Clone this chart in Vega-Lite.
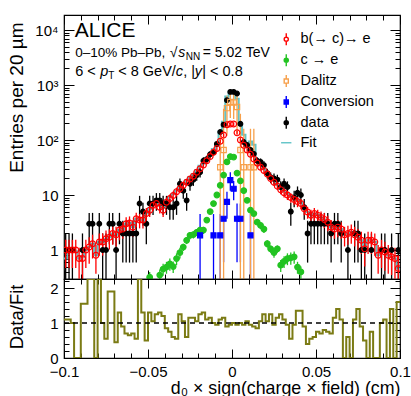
{
"$schema": "https://vega.github.io/schema/vega-lite/v6.json",
"padding": {"left": 6, "top": 13, "right": 13, "bottom": 0},
"spacing": 0,
"bounds": "flush",
"config": {
  "font": "Liberation Sans",
  "view": {"stroke": "#000", "strokeWidth": 1.2},
  "axis": {"domain": false, "grid": false, "tickColor": "#000", "tickWidth": 1, "labelColor": "#000", "titleColor": "#000", "labelFont": "Liberation Sans", "titleFont": "Liberation Sans", "labelFontSize": 15, "titleFontSize": 17.8, "titleFontWeight": "normal", "labelOverlap": false, "labelFlush": false, "labelBound": false},
  "text": {"font": "Liberation Sans", "color": "#000"}
},
"datasets": {
"legend": [{"s":"b(→ c)→ e"},{"s":"c → e"},{"s":"Dalitz"},{"s":"Conversion"},{"s":"data"},{"s":"Fit"}],
"fit": [
{"x":-0.1,"v":0.7},{"x":-0.098,"v":1.0},{"x":-0.096,"v":1.0},{"x":-0.094,"v":0.95},{"x":-0.092,"v":0.7},{"x":-0.09,"v":0.75},{"x":-0.088,"v":1.0},{"x":-0.086,"v":1.13},{"x":-0.084,"v":1.3},{"x":-0.082,"v":0.8},
{"x":-0.08,"v":1.4},{"x":-0.078,"v":1.4},{"x":-0.076,"v":1.6},{"x":-0.074,"v":1.7},{"x":-0.072,"v":2.0},{"x":-0.07,"v":1.9},{"x":-0.068,"v":2.3},{"x":-0.066,"v":2.4},{"x":-0.064,"v":3.0},{"x":-0.062,"v":3.1},
{"x":-0.06,"v":2.6},{"x":-0.058,"v":3.7},{"x":-0.056,"v":3.5},{"x":-0.054,"v":3.5},{"x":-0.052,"v":4.6},{"x":-0.05,"v":5.6},{"x":-0.048,"v":6.5},{"x":-0.046,"v":7.0},{"x":-0.044,"v":6.4},{"x":-0.042,"v":5.8},
{"x":-0.04,"v":7.9},{"x":-0.038,"v":9.2},{"x":-0.036,"v":10.3},{"x":-0.034,"v":12.2},{"x":-0.032,"v":13.9},{"x":-0.03,"v":16.1},{"x":-0.028,"v":18.5},{"x":-0.026,"v":21.3},{"x":-0.024,"v":23.9},{"x":-0.022,"v":28.1},
{"x":-0.02,"v":34.2},{"x":-0.018,"v":37.3},{"x":-0.016,"v":45.5},{"x":-0.014,"v":55},{"x":-0.012,"v":68.9},{"x":-0.01,"v":80},{"x":-0.008,"v":144},{"x":-0.006,"v":215},{"x":-0.004,"v":618},{"x":-0.002,"v":754},
{"x":0,"v":737},{"x":0.002,"v":564},{"x":0.004,"v":188},{"x":0.006,"v":124},{"x":0.008,"v":74},{"x":0.01,"v":94},{"x":0.012,"v":82},{"x":0.014,"v":41.2},{"x":0.016,"v":34.8},{"x":0.018,"v":30.4},
{"x":0.02,"v":25.3},{"x":0.022,"v":21},{"x":0.024,"v":17.9},{"x":0.026,"v":15.5},{"x":0.028,"v":13},{"x":0.03,"v":11.6},{"x":0.032,"v":10.7},{"x":0.034,"v":9.7},{"x":0.036,"v":9.0},{"x":0.038,"v":8.1},
{"x":0.04,"v":7.4},{"x":0.042,"v":5.6},{"x":0.044,"v":4.9},{"x":0.046,"v":4.3},{"x":0.048,"v":4.6},{"x":0.05,"v":4.3},{"x":0.052,"v":3.9},{"x":0.054,"v":3.6},{"x":0.056,"v":3.2},{"x":0.058,"v":2.6},
{"x":0.06,"v":2.4},{"x":0.062,"v":2.6},{"x":0.064,"v":2.4},{"x":0.066,"v":1.9},{"x":0.068,"v":2.0},{"x":0.07,"v":2.1},{"x":0.072,"v":1.9},{"x":0.074,"v":1.7},{"x":0.076,"v":1.5},{"x":0.078,"v":1.05},
{"x":0.08,"v":1.5},{"x":0.082,"v":1.5},{"x":0.084,"v":1.4},{"x":0.086,"v":0.8},{"x":0.088,"v":1.0},{"x":0.09,"v":0.92},{"x":0.092,"v":0.8},{"x":0.094,"v":0.75},{"x":0.096,"v":0.7},{"x":0.098,"v":0.46},{"x":0.1,"v":0.46}
],
"ratio": [
{"x":-0.1,"r":1.1},{"x":-0.098,"r":1.1},{"x":-0.096,"r":1.0},{"x":-0.094,"r":0},{"x":-0.092,"r":0},{"x":-0.09,"r":1.55},{"x":-0.088,"r":1.55},{"x":-0.086,"r":2.26},{"x":-0.084,"r":2.26},{"x":-0.082,"r":0},
{"x":-0.08,"r":2.26},{"x":-0.078,"r":1.0},{"x":-0.076,"r":0.55},{"x":-0.074,"r":1.9},{"x":-0.072,"r":1.9},{"x":-0.07,"r":0.45},{"x":-0.068,"r":1.3},{"x":-0.066,"r":0.9},{"x":-0.064,"r":0.7},{"x":-0.062,"r":0.65},
{"x":-0.06,"r":0.7},{"x":-0.058,"r":0.55},{"x":-0.056,"r":2.26},{"x":-0.054,"r":1.3},{"x":-0.052,"r":0.5},{"x":-0.05,"r":1.3},{"x":-0.048,"r":1.05},{"x":-0.046,"r":1.25},{"x":-0.044,"r":1.3},{"x":-0.042,"r":1.2},
{"x":-0.04,"r":0.85},{"x":-0.038,"r":0.75},{"x":-0.036,"r":0.6},{"x":-0.034,"r":0.55},{"x":-0.032,"r":1.25},{"x":-0.03,"r":1.05},{"x":-0.028,"r":0.6},{"x":-0.026,"r":1.15},{"x":-0.024,"r":1.15},{"x":-0.022,"r":1.05},
{"x":-0.02,"r":1.25},{"x":-0.018,"r":1.3},{"x":-0.016,"r":1.1},{"x":-0.014,"r":1.15},{"x":-0.012,"r":1.0},{"x":-0.01,"r":0.95},{"x":-0.008,"r":1.1},{"x":-0.006,"r":1.15},{"x":-0.004,"r":0.9},{"x":-0.002,"r":0.95},
{"x":0,"r":1.0},{"x":0.002,"r":0.95},{"x":0.004,"r":1.0},{"x":0.006,"r":0.95},{"x":0.008,"r":1.05},{"x":0.01,"r":0.95},{"x":0.012,"r":0.9},{"x":0.014,"r":0.85},{"x":0.016,"r":1.05},{"x":0.018,"r":1.25},
{"x":0.02,"r":1.05},{"x":0.022,"r":1.25},{"x":0.024,"r":0.95},{"x":0.026,"r":1.15},{"x":0.028,"r":1.25},{"x":0.03,"r":1.1},{"x":0.032,"r":0.95},{"x":0.034,"r":0.55},{"x":0.036,"r":0.95},{"x":0.038,"r":1.35},
{"x":0.04,"r":1.35},{"x":0.042,"r":0.9},{"x":0.044,"r":0.4},{"x":0.046,"r":0.55},{"x":0.048,"r":0.6},{"x":0.05,"r":0.75},{"x":0.052,"r":0.7},{"x":0.054,"r":0.8},{"x":0.056,"r":0.75},{"x":0.058,"r":0.7},
{"x":0.06,"r":1.15},{"x":0.062,"r":1.4},{"x":0.064,"r":1.1},{"x":0.066,"r":0},{"x":0.068,"r":0.6},{"x":0.07,"r":0},{"x":0.072,"r":1.1},{"x":0.074,"r":1.4},{"x":0.076,"r":0.9},{"x":0.078,"r":0.5},
{"x":0.08,"r":0},{"x":0.082,"r":0.75},{"x":0.084,"r":0},{"x":0.086,"r":0},{"x":0.088,"r":1.0},{"x":0.09,"r":1.1},{"x":0.092,"r":0},{"x":0.094,"r":1.4},{"x":0.096,"r":0},{"x":0.098,"r":1.6},{"x":0.1,"r":1.6}
],
"pts": [
{"s":"data","x":-0.099,"v":1,"lo":0.05,"hi":2},{"s":"data","x":-0.097,"v":1,"lo":0.05,"hi":2},{"s":"data","x":-0.095,"v":1,"lo":0.05,"hi":2},{"s":"data","x":-0.089,"v":1,"lo":0.05,"hi":2},
{"s":"data","x":-0.085,"v":3,"lo":1.27,"hi":4.73},{"s":"data","x":-0.083,"v":3,"lo":1.27,"hi":4.73},{"s":"data","x":-0.079,"v":3,"lo":1.27,"hi":4.73},{"s":"data","x":-0.077,"v":1,"lo":0.05,"hi":2},
{"s":"data","x":-0.075,"v":1,"lo":0.05,"hi":2},{"s":"data","x":-0.073,"v":3,"lo":1.27,"hi":4.73},{"s":"data","x":-0.071,"v":3,"lo":1.27,"hi":4.73},{"s":"data","x":-0.069,"v":1,"lo":0.05,"hi":2},
{"s":"data","x":-0.067,"v":3,"lo":1.27,"hi":4.73},{"s":"data","x":-0.065,"v":2,"lo":0.59,"hi":3.41},{"s":"data","x":-0.063,"v":2,"lo":0.59,"hi":3.41},{"s":"data","x":-0.061,"v":2,"lo":0.59,"hi":3.41},
{"s":"data","x":-0.059,"v":2,"lo":0.59,"hi":3.41},{"s":"data","x":-0.057,"v":2,"lo":0.59,"hi":3.41},{"s":"data","x":-0.055,"v":7,"lo":4.35,"hi":9.65},{"s":"data","x":-0.053,"v":5,"lo":2.76,"hi":7.24},
{"s":"data","x":-0.051,"v":3,"lo":1.27,"hi":4.73},{"s":"data","x":-0.049,"v":7,"lo":4.35,"hi":9.65},{"s":"data","x":-0.047,"v":7,"lo":4.35,"hi":9.65},{"s":"data","x":-0.045,"v":8,"lo":5.17,"hi":10.83},
{"s":"data","x":-0.043,"v":8,"lo":5.17,"hi":10.83},{"s":"data","x":-0.041,"v":7,"lo":4.35,"hi":9.65},{"s":"data","x":-0.039,"v":7,"lo":4.35,"hi":9.65},{"s":"data","x":-0.037,"v":6,"lo":3.55,"hi":8.45},
{"s":"data","x":-0.035,"v":6,"lo":3.55,"hi":8.45},{"s":"data","x":-0.033,"v":7,"lo":4.35,"hi":9.65},{"s":"data","x":-0.031,"v":16,"lo":12,"hi":20},{"s":"data","x":-0.029,"v":12,"lo":8.54,"hi":15.46},
{"s":"data","x":-0.027,"v":8,"lo":5.17,"hi":10.83},{"s":"data","x":-0.025,"v":16,"lo":12,"hi":20},{"s":"data","x":-0.023,"v":19,"lo":14.64,"hi":23.36},{"s":"data","x":-0.021,"v":23,"lo":18.2,"hi":27.8},
{"s":"data","x":-0.019,"v":26,"lo":20.9,"hi":31.1},{"s":"data","x":-0.017,"v":42,"lo":35.5,"hi":48.5},{"s":"data","x":-0.015,"v":45,"lo":38.3,"hi":51.7},{"s":"data","x":-0.013,"v":55,"lo":47.6,"hi":62.4},
{"s":"data","x":-0.011,"v":60,"lo":52.3,"hi":67.7},{"s":"data","x":-0.009,"v":85,"lo":75.8,"hi":94.2},{"s":"data","x":-0.007,"v":140,"lo":128.2,"hi":151.8},{"s":"data","x":-0.005,"v":190,"lo":176.2,"hi":203.8},
{"s":"data","x":-0.003,"v":530,"lo":507,"hi":553},{"s":"data","x":-0.001,"v":750,"lo":722.6,"hi":777.4},{"s":"data","x":0.001,"v":750,"lo":722.6,"hi":777.4},{"s":"data","x":0.003,"v":700,"lo":673.5,"hi":726.5},
{"s":"data","x":0.005,"v":197,"lo":183,"hi":211},{"s":"data","x":0.007,"v":92,"lo":82.4,"hi":101.6},{"s":"data","x":0.009,"v":81,"lo":72,"hi":90},{"s":"data","x":0.011,"v":66,"lo":57.9,"hi":74.1},
{"s":"data","x":0.013,"v":56,"lo":48.5,"hi":63.5},{"s":"data","x":0.015,"v":42,"lo":35.5,"hi":48.5},{"s":"data","x":0.017,"v":40,"lo":33.7,"hi":46.3},{"s":"data","x":0.019,"v":35,"lo":29.1,"hi":40.9},
{"s":"data","x":0.021,"v":25,"lo":20,"hi":30},{"s":"data","x":0.023,"v":21,"lo":16.4,"hi":25.6},{"s":"data","x":0.025,"v":20,"lo":15.5,"hi":24.5},{"s":"data","x":0.027,"v":19,"lo":14.64,"hi":23.36},
{"s":"data","x":0.029,"v":14,"lo":10.3,"hi":17.7},{"s":"data","x":0.031,"v":16,"lo":12,"hi":20},{"s":"data","x":0.033,"v":14,"lo":10.3,"hi":17.7},{"s":"data","x":0.035,"v":5,"lo":2.76,"hi":7.24},
{"s":"data","x":0.037,"v":9,"lo":6,"hi":12},{"s":"data","x":0.039,"v":11,"lo":7.7,"hi":14.3},{"s":"data","x":0.041,"v":10,"lo":6.84,"hi":13.16},{"s":"data","x":0.043,"v":6,"lo":3.55,"hi":8.45},
{"s":"data","x":0.045,"v":2,"lo":0.59,"hi":3.41},{"s":"data","x":0.047,"v":3,"lo":1.27,"hi":4.73},{"s":"data","x":0.049,"v":3,"lo":1.27,"hi":4.73},{"s":"data","x":0.051,"v":3,"lo":1.27,"hi":4.73},
{"s":"data","x":0.053,"v":3,"lo":1.27,"hi":4.73},{"s":"data","x":0.055,"v":3,"lo":1.27,"hi":4.73},{"s":"data","x":0.057,"v":3,"lo":1.27,"hi":4.73},{"s":"data","x":0.059,"v":2,"lo":0.59,"hi":3.41},
{"s":"data","x":0.061,"v":3,"lo":1.27,"hi":4.73},{"s":"data","x":0.063,"v":3,"lo":1.27,"hi":4.73},{"s":"data","x":0.065,"v":2,"lo":0.59,"hi":3.41},{"s":"data","x":0.069,"v":1,"lo":0.05,"hi":2},
{"s":"data","x":0.073,"v":2,"lo":0.59,"hi":3.41},{"s":"data","x":0.075,"v":2,"lo":0.59,"hi":3.41},{"s":"data","x":0.077,"v":1,"lo":0.05,"hi":2},{"s":"data","x":0.079,"v":1,"lo":0.05,"hi":2},
{"s":"data","x":0.083,"v":1,"lo":0.05,"hi":2},{"s":"data","x":0.089,"v":1,"lo":0.05,"hi":2},{"s":"data","x":0.091,"v":1,"lo":0.05,"hi":2},{"s":"data","x":0.095,"v":1,"lo":0.05,"hi":2},{"s":"data","x":0.099,"v":1,"lo":0.05,"hi":2},

{"s":"c → e","x":-0.049,"v":0.32,"lo":0.24,"hi":0.4},{"s":"c → e","x":-0.043,"v":0.35,"lo":0.26,"hi":0.44},{"s":"c → e","x":-0.041,"v":0.45,"lo":0.34,"hi":0.56},{"s":"c → e","x":-0.039,"v":0.49,"lo":0.37,"hi":0.61},
{"s":"c → e","x":-0.037,"v":0.56,"lo":0.42,"hi":0.7},{"s":"c → e","x":-0.035,"v":0.5,"lo":0.38,"hi":0.62},{"s":"c → e","x":-0.033,"v":0.7,"lo":0.53,"hi":0.87},{"s":"c → e","x":-0.031,"v":0.9,"lo":0.7,"hi":1.1},
{"s":"c → e","x":-0.029,"v":1.13,"lo":0.96,"hi":1.3},{"s":"c → e","x":-0.027,"v":1.5,"lo":1.28,"hi":1.72},{"s":"c → e","x":-0.025,"v":1.85,"lo":1.57,"hi":2.13},{"s":"c → e","x":-0.023,"v":1.9,"lo":1.62,"hi":2.18},
{"s":"c → e","x":-0.021,"v":2.1,"lo":1.79,"hi":2.41},{"s":"c → e","x":-0.019,"v":2.3,"lo":1.96,"hi":2.64},{"s":"c → e","x":-0.017,"v":2.3,"lo":1.96,"hi":2.64},{"s":"c → e","x":-0.015,"v":3.5,"lo":3.22,"hi":3.78},
{"s":"c → e","x":-0.013,"v":5,"lo":4.6,"hi":5.4},{"s":"c → e","x":-0.011,"v":7,"lo":6.44,"hi":7.56},{"s":"c → e","x":-0.009,"v":10,"lo":9.4,"hi":10.6},{"s":"c → e","x":-0.007,"v":15,"lo":14.4,"hi":15.6},
{"s":"c → e","x":-0.005,"v":23,"lo":22.1,"hi":23.9},{"s":"c → e","x":-0.003,"v":40,"lo":38.4,"hi":41.6},{"s":"c → e","x":-0.001,"v":50,"lo":48,"hi":52},{"s":"c → e","x":0.001,"v":49,"lo":47,"hi":51},
{"s":"c → e","x":0.003,"v":25,"lo":24,"hi":26},{"s":"c → e","x":0.005,"v":18,"lo":17.3,"hi":18.7},{"s":"c → e","x":0.007,"v":12,"lo":11.5,"hi":12.5},{"s":"c → e","x":0.009,"v":8,"lo":7.4,"hi":8.6},
{"s":"c → e","x":0.011,"v":5.3,"lo":4.9,"hi":5.7},{"s":"c → e","x":0.013,"v":4.6,"lo":4.2,"hi":5.0},{"s":"c → e","x":0.015,"v":3.2,"lo":2.9,"hi":3.5},{"s":"c → e","x":0.017,"v":2.8,"lo":2.4,"hi":3.2},
{"s":"c → e","x":0.019,"v":2.4,"lo":2.04,"hi":2.76},{"s":"c → e","x":0.021,"v":1.3,"lo":1.1,"hi":1.5},{"s":"c → e","x":0.023,"v":1.05,"lo":0.89,"hi":1.21},{"s":"c → e","x":0.025,"v":0.9,"lo":0.72,"hi":1.08},
{"s":"c → e","x":0.027,"v":1.05,"lo":0.89,"hi":1.21},{"s":"c → e","x":0.029,"v":0.53,"lo":0.4,"hi":0.66},{"s":"c → e","x":0.031,"v":0.62,"lo":0.47,"hi":0.77},{"s":"c → e","x":0.033,"v":0.7,"lo":0.53,"hi":0.87},
{"s":"c → e","x":0.035,"v":0.72,"lo":0.54,"hi":0.9},{"s":"c → e","x":0.037,"v":0.75,"lo":0.56,"hi":0.94},{"s":"c → e","x":0.039,"v":0.49,"lo":0.37,"hi":0.61},{"s":"c → e","x":0.041,"v":0.4,"lo":0.3,"hi":0.5},

{"s":"Conversion","x":-0.019,"v":1.85,"lo":0.05,"hi":4.5},{"s":"Conversion","x":-0.011,"v":1.85,"lo":0.05,"hi":4.5},{"s":"Conversion","x":-0.007,"v":1.85,"lo":0.05,"hi":4.5},
{"s":"Conversion","x":-0.005,"v":3.7,"lo":0.6,"hi":7},{"s":"Conversion","x":-0.003,"v":7.5,"lo":3.7,"hi":11.5},{"s":"Conversion","x":-0.001,"v":18.7,"lo":12,"hi":26},
{"s":"Conversion","x":0.001,"v":13,"lo":8,"hi":18},{"s":"Conversion","x":0.003,"v":3.7,"lo":0.6,"hi":7},{"s":"Conversion","x":0.005,"v":3.7,"lo":0.6,"hi":7},{"s":"Conversion","x":0.011,"v":1.85,"lo":0.05,"hi":4.5},

{"s":"Dalitz","x":-0.007,"v":32,"lo":0.05,"hi":150},{"s":"Dalitz","x":-0.005,"v":66,"lo":0.05,"hi":370},{"s":"Dalitz","x":-0.003,"v":380,"lo":120,"hi":640},
{"s":"Dalitz","x":-0.001,"v":490,"lo":250,"hi":730},{"s":"Dalitz","x":0.001,"v":480,"lo":240,"hi":720},{"s":"Dalitz","x":0.003,"v":400,"lo":130,"hi":660},
{"s":"Dalitz","x":0.005,"v":66,"lo":0.05,"hi":300},{"s":"Dalitz","x":0.007,"v":32,"lo":0.05,"hi":160},{"s":"Dalitz","x":0.011,"v":32,"lo":0.05,"hi":160},{"s":"Dalitz","x":0.013,"v":32,"lo":0.05,"hi":160},

{"s":"b(→ c)→ e","x":-0.099,"v":1.0,"lo":0.47,"hi":1.53},{"s":"b(→ c)→ e","x":-0.097,"v":1.0,"lo":0.47,"hi":1.53},{"s":"b(→ c)→ e","x":-0.095,"v":1.0,"lo":0.47,"hi":1.53},{"s":"b(→ c)→ e","x":-0.093,"v":1.0,"lo":0.47,"hi":1.53},
{"s":"b(→ c)→ e","x":-0.091,"v":0.7,"lo":0.3,"hi":1.1},{"s":"b(→ c)→ e","x":-0.089,"v":0.7,"lo":0.3,"hi":1.1},{"s":"b(→ c)→ e","x":-0.087,"v":1.0,"lo":0.47,"hi":1.53},{"s":"b(→ c)→ e","x":-0.085,"v":1.13,"lo":0.56,"hi":1.7},
{"s":"b(→ c)→ e","x":-0.083,"v":1.3,"lo":0.7,"hi":1.9},{"s":"b(→ c)→ e","x":-0.081,"v":0.8,"lo":0.37,"hi":1.23},{"s":"b(→ c)→ e","x":-0.079,"v":1.4,"lo":0.79,"hi":2.0},{"s":"b(→ c)→ e","x":-0.077,"v":1.4,"lo":0.79,"hi":2.0},
{"s":"b(→ c)→ e","x":-0.075,"v":1.6,"lo":0.94,"hi":2.26},{"s":"b(→ c)→ e","x":-0.073,"v":1.7,"lo":1.02,"hi":2.38},{"s":"b(→ c)→ e","x":-0.071,"v":2.0,"lo":1.24,"hi":2.76},{"s":"b(→ c)→ e","x":-0.069,"v":1.9,"lo":1.16,"hi":2.64},
{"s":"b(→ c)→ e","x":-0.067,"v":2.3,"lo":1.5,"hi":3.1},{"s":"b(→ c)→ e","x":-0.065,"v":2.4,"lo":1.6,"hi":3.2},{"s":"b(→ c)→ e","x":-0.063,"v":3.0,"lo":2.04,"hi":3.96},{"s":"b(→ c)→ e","x":-0.061,"v":3.1,"lo":2.12,"hi":4.08},
{"s":"b(→ c)→ e","x":-0.059,"v":2.6,"lo":1.74,"hi":3.46},{"s":"b(→ c)→ e","x":-0.057,"v":3.7,"lo":2.63,"hi":4.77},{"s":"b(→ c)→ e","x":-0.055,"v":3.5,"lo":2.47,"hi":4.53},{"s":"b(→ c)→ e","x":-0.053,"v":3.5,"lo":2.47,"hi":4.53},
{"s":"b(→ c)→ e","x":-0.051,"v":4.6,"lo":3.4,"hi":5.8},{"s":"b(→ c)→ e","x":-0.049,"v":5.3,"lo":4.0,"hi":6.6},{"s":"b(→ c)→ e","x":-0.047,"v":6.5,"lo":5.1,"hi":7.9},{"s":"b(→ c)→ e","x":-0.045,"v":7.0,"lo":5.5,"hi":8.5},
{"s":"b(→ c)→ e","x":-0.043,"v":6.0,"lo":4.6,"hi":7.4},{"s":"b(→ c)→ e","x":-0.041,"v":5.3,"lo":4.0,"hi":6.6},{"s":"b(→ c)→ e","x":-0.039,"v":7.4,"lo":5.9,"hi":8.9},{"s":"b(→ c)→ e","x":-0.037,"v":8.6,"lo":7.0,"hi":10.2},
{"s":"b(→ c)→ e","x":-0.035,"v":9.8,"lo":8.0,"hi":11.6},{"s":"b(→ c)→ e","x":-0.033,"v":11.5,"lo":9.5,"hi":13.5},{"s":"b(→ c)→ e","x":-0.031,"v":13,"lo":10.9,"hi":15.1},{"s":"b(→ c)→ e","x":-0.029,"v":15,"lo":12.7,"hi":17.3},
{"s":"b(→ c)→ e","x":-0.027,"v":17,"lo":14.6,"hi":19.4},{"s":"b(→ c)→ e","x":-0.025,"v":19.5,"lo":17,"hi":22},{"s":"b(→ c)→ e","x":-0.023,"v":22,"lo":19.3,"hi":24.7},{"s":"b(→ c)→ e","x":-0.021,"v":26,"lo":23,"hi":29},
{"s":"b(→ c)→ e","x":-0.019,"v":30,"lo":26.6,"hi":33.4},{"s":"b(→ c)→ e","x":-0.017,"v":35,"lo":31.2,"hi":38.8},{"s":"b(→ c)→ e","x":-0.015,"v":42,"lo":37.7,"hi":46.3},{"s":"b(→ c)→ e","x":-0.013,"v":50,"lo":45,"hi":55},
{"s":"b(→ c)→ e","x":-0.011,"v":60,"lo":54.4,"hi":65.6},{"s":"b(→ c)→ e","x":-0.009,"v":70,"lo":64,"hi":76},{"s":"b(→ c)→ e","x":-0.007,"v":95,"lo":87.5,"hi":102.5},{"s":"b(→ c)→ e","x":-0.005,"v":123,"lo":113,"hi":133},
{"s":"b(→ c)→ e","x":-0.003,"v":190,"lo":175,"hi":205},{"s":"b(→ c)→ e","x":-0.001,"v":195,"lo":180,"hi":210},{"s":"b(→ c)→ e","x":0.001,"v":195,"lo":180,"hi":210},{"s":"b(→ c)→ e","x":0.003,"v":135,"lo":124,"hi":146},
{"s":"b(→ c)→ e","x":0.005,"v":100,"lo":92,"hi":108},{"s":"b(→ c)→ e","x":0.007,"v":80,"lo":73.5,"hi":86.5},{"s":"b(→ c)→ e","x":0.009,"v":66,"lo":60.5,"hi":71.5},{"s":"b(→ c)→ e","x":0.011,"v":55,"lo":50,"hi":60},
{"s":"b(→ c)→ e","x":0.013,"v":45,"lo":40.8,"hi":49.2},{"s":"b(→ c)→ e","x":0.015,"v":38,"lo":34.3,"hi":41.7},{"s":"b(→ c)→ e","x":0.017,"v":32,"lo":28.7,"hi":35.3},{"s":"b(→ c)→ e","x":0.019,"v":28,"lo":25,"hi":31},
{"s":"b(→ c)→ e","x":0.021,"v":24,"lo":21.3,"hi":26.7},{"s":"b(→ c)→ e","x":0.023,"v":20,"lo":17.6,"hi":22.4},{"s":"b(→ c)→ e","x":0.025,"v":17,"lo":14.6,"hi":19.4},{"s":"b(→ c)→ e","x":0.027,"v":14.5,"lo":12.3,"hi":16.7},
{"s":"b(→ c)→ e","x":0.029,"v":12.5,"lo":10.4,"hi":14.6},{"s":"b(→ c)→ e","x":0.031,"v":11,"lo":9.0,"hi":13.0},{"s":"b(→ c)→ e","x":0.033,"v":10,"lo":8.1,"hi":11.9},{"s":"b(→ c)→ e","x":0.035,"v":9,"lo":7.2,"hi":10.8},
{"s":"b(→ c)→ e","x":0.037,"v":8.3,"lo":6.6,"hi":10},{"s":"b(→ c)→ e","x":0.039,"v":7.6,"lo":6.0,"hi":9.2},{"s":"b(→ c)→ e","x":0.041,"v":7,"lo":5.5,"hi":8.5},{"s":"b(→ c)→ e","x":0.043,"v":5.6,"lo":4.3,"hi":6.9},
{"s":"b(→ c)→ e","x":0.045,"v":4.9,"lo":3.7,"hi":6.1},{"s":"b(→ c)→ e","x":0.047,"v":4.3,"lo":3.2,"hi":5.4},{"s":"b(→ c)→ e","x":0.049,"v":4.6,"lo":3.4,"hi":5.8},{"s":"b(→ c)→ e","x":0.051,"v":4.3,"lo":3.2,"hi":5.4},
{"s":"b(→ c)→ e","x":0.053,"v":3.9,"lo":2.8,"hi":5.0},{"s":"b(→ c)→ e","x":0.055,"v":3.6,"lo":2.5,"hi":4.7},{"s":"b(→ c)→ e","x":0.057,"v":3.2,"lo":2.2,"hi":4.2},{"s":"b(→ c)→ e","x":0.059,"v":2.6,"lo":1.7,"hi":3.5},
{"s":"b(→ c)→ e","x":0.061,"v":2.4,"lo":1.6,"hi":3.2},{"s":"b(→ c)→ e","x":0.063,"v":2.6,"lo":1.7,"hi":3.5},{"s":"b(→ c)→ e","x":0.065,"v":2.4,"lo":1.6,"hi":3.2},{"s":"b(→ c)→ e","x":0.067,"v":1.9,"lo":1.16,"hi":2.64},
{"s":"b(→ c)→ e","x":0.069,"v":2.0,"lo":1.24,"hi":2.76},{"s":"b(→ c)→ e","x":0.071,"v":2.1,"lo":1.3,"hi":2.9},{"s":"b(→ c)→ e","x":0.073,"v":1.9,"lo":1.16,"hi":2.64},{"s":"b(→ c)→ e","x":0.075,"v":1.7,"lo":1.0,"hi":2.4},
{"s":"b(→ c)→ e","x":0.077,"v":1.5,"lo":0.85,"hi":2.15},{"s":"b(→ c)→ e","x":0.079,"v":1.05,"lo":0.5,"hi":1.6},{"s":"b(→ c)→ e","x":0.081,"v":1.5,"lo":0.85,"hi":2.15},{"s":"b(→ c)→ e","x":0.083,"v":1.5,"lo":0.85,"hi":2.15},
{"s":"b(→ c)→ e","x":0.085,"v":1.4,"lo":0.79,"hi":2.0},{"s":"b(→ c)→ e","x":0.087,"v":0.8,"lo":0.37,"hi":1.23},{"s":"b(→ c)→ e","x":0.089,"v":1.0,"lo":0.47,"hi":1.53},{"s":"b(→ c)→ e","x":0.091,"v":0.92,"lo":0.42,"hi":1.42},
{"s":"b(→ c)→ e","x":0.093,"v":0.8,"lo":0.37,"hi":1.23},{"s":"b(→ c)→ e","x":0.095,"v":0.75,"lo":0.35,"hi":1.15},{"s":"b(→ c)→ e","x":0.097,"v":0.7,"lo":0.3,"hi":1.1},{"s":"b(→ c)→ e","x":0.099,"v":0.46,"lo":0.12,"hi":0.8}
]
},
"vconcat": [
{
  "width": 336, "height": 264,
  "layer": [
    {
      "data": {"name": "fit"},
      "mark": {"type": "line", "interpolate": "step-after", "stroke": "#5fc3c7", "strokeWidth": 2, "clip": true},
      "encoding": {
        "x": {"field": "x", "type": "quantitative", "scale": {"domain": [-0.1, 0.1], "nice": false, "zero": false},
              "axis": {"orient": "bottom", "values": [-0.1,-0.09,-0.08,-0.07,-0.06,-0.05,-0.04,-0.03,-0.02,-0.01,0,0.01,0.02,0.03,0.04,0.05,0.06,0.07,0.08,0.09,0.1], "labels": false, "title": null,
                       "tickSize": {"condition": {"test": "abs(datum.value*20-round(datum.value*20))<0.001", "value": -9}, "value": -5}}},
        "y": {"field": "v", "type": "quantitative", "scale": {"type": "log", "domain": [0.297, 18750], "nice": false},
              "axis": {"orient": "left", "values": [0.3,0.4,0.5,0.6,0.7,0.8,0.9,1,2,3,4,5,6,7,8,9,10,20,30,40,50,60,70,80,90,100,200,300,400,500,600,700,800,900,1000,2000,3000,4000,5000,6000,7000,8000,9000,10000],
                       "labelExpr": "datum.value==1?'1':datum.value==10?'10':datum.value==100?'10²':datum.value==1000?'10³':datum.value==10000?'10⁴':''",
                       "tickSize": {"condition": {"test": "abs(log(datum.value)/LN10-round(log(datum.value)/LN10))<0.001", "value": -10}, "value": -5},
                       "labelPadding": 16, "title": "Entries per 20 µm", "titleFontSize": 19, "titleAnchor": "end", "titleY": 7, "titleX": -38}}
      }
    },
    {
      "data": {"name": "pts"},
      "mark": {"type": "rule", "strokeWidth": 1.3, "clip": true},
      "encoding": {
        "x": {"field": "x", "type": "quantitative",
              "axis": {"orient": "top", "values": [-0.1,-0.09,-0.08,-0.07,-0.06,-0.05,-0.04,-0.03,-0.02,-0.01,0,0.01,0.02,0.03,0.04,0.05,0.06,0.07,0.08,0.09,0.1], "labels": false, "title": null,
                       "tickSize": {"condition": {"test": "abs(datum.value*20-round(datum.value*20))<0.001", "value": -9}, "value": -5}}},
        "y": {"field": "lo", "type": "quantitative",
              "axis": {"orient": "right", "values": [0.3,0.4,0.5,0.6,0.7,0.8,0.9,1,2,3,4,5,6,7,8,9,10,20,30,40,50,60,70,80,90,100,200,300,400,500,600,700,800,900,1000,2000,3000,4000,5000,6000,7000,8000,9000,10000], "labels": false, "title": null,
                       "tickSize": {"condition": {"test": "abs(log(datum.value)/LN10-round(log(datum.value)/LN10))<0.001", "value": -10}, "value": -5}}},
        "y2": {"field": "hi"},
        "color": {"field": "s", "type": "nominal", "legend": null,
                  "scale": {"domain": ["b(→ c)→ e", "c → e", "Dalitz", "Conversion", "data"], "range": ["#ff0000", "#22c322", "#f7a04b", "#0000ff", "#000000"]}}
      }
    },
    {
      "data": {"name": "pts"},
      "mark": {"type": "point", "opacity": 1, "strokeWidth": 1.2, "clip": true},
      "encoding": {
        "x": {"field": "x", "type": "quantitative", "axis": null},
        "y": {"field": "v", "type": "quantitative", "axis": null},
        "stroke": {"field": "s", "type": "nominal", "legend": null,
                   "scale": {"domain": ["b(→ c)→ e", "c → e", "Dalitz", "Conversion", "data"], "range": ["#ff0000", "#22c322", "#f7a04b", "#0000ff", "#000000"]}},
        "fill": {"field": "s", "type": "nominal", "legend": null,
                 "scale": {"domain": ["b(→ c)→ e", "c → e", "Dalitz", "Conversion", "data"], "range": ["transparent", "#22c322", "transparent", "#0000ff", "#000000"]}},
        "shape": {"field": "s", "type": "nominal", "legend": null,
                  "scale": {"domain": ["b(→ c)→ e", "c → e", "Dalitz", "Conversion", "data"], "range": ["circle", "circle", "square", "square", "circle"]}},
        "size": {"field": "s", "type": "nominal", "legend": null,
                 "scale": {"domain": ["b(→ c)→ e", "c → e", "Dalitz", "Conversion", "data"], "range": [34, 22, 30, 16, 22]}}
      }
    },
    {
      "data": {"name": "legend"},
      "mark": {"type": "point", "opacity": 0},
      "encoding": {
        "shape": {"field": "s", "type": "nominal",
                  "scale": {"domain": ["b(→ c)→ e", "c → e", "Dalitz", "Conversion", "data", "Fit"],
                            "range": ["M0,-2.9V-1M0,1V2.9M-1,0A1,1,0,1,1,1,0A1,1,0,1,1,-1,0Z", "M0,-2.9V-1M0,1V2.9M-1,0A1,1,0,1,1,1,0A1,1,0,1,1,-1,0Z", "M0,-2.9V-1M0,1V2.9M-1,-1H1V1H-1Z", "M0,-2.9V-1M0,1V2.9M-1,-1H1V1H-1Z", "M0,-2.9V-1M0,1V2.9M-1,0A1,1,0,1,1,1,0A1,1,0,1,1,-1,0Z", "M-2.5,0H2.5"]},
                  "legend": {"title": null, "orient": "none", "legendX": 215, "legendY": 17, "padding": 0, "symbolSize": 17, "symbolStrokeWidth": 1.4, "symbolFillColor": "transparent", "symbolOpacity": 1, "labelFontSize": 14.5, "labelFont": "Liberation Sans", "labelColor": "#000", "labelOffset": 7, "rowPadding": 1.9, "labelLimit": 200}},
        "stroke": {"field": "s", "type": "nominal",
                   "scale": {"domain": ["b(→ c)→ e", "c → e", "Dalitz", "Conversion", "data", "Fit"], "range": ["#ff0000", "#22c322", "#f7a04b", "#0000ff", "#000000", "#5fc3c7"]},
                   "legend": {"title": null, "orient": "none", "legendX": 215, "legendY": 17, "padding": 0, "symbolSize": 17, "symbolStrokeWidth": 1.4, "symbolFillColor": "transparent", "symbolOpacity": 1, "labelFontSize": 14.5, "labelFont": "Liberation Sans", "labelColor": "#000", "labelOffset": 7, "rowPadding": 1.9, "labelLimit": 200}},
        "fill": {"field": "s", "type": "nominal",
                 "scale": {"domain": ["b(→ c)→ e", "c → e", "Dalitz", "Conversion", "data", "Fit"], "range": ["transparent", "#22c322", "transparent", "#0000ff", "#000000", "transparent"]},
                 "legend": {"title": null, "orient": "none", "legendX": 215, "legendY": 17, "padding": 0, "symbolSize": 17, "symbolStrokeWidth": 1.4, "symbolFillColor": "transparent", "symbolOpacity": 1, "labelFontSize": 14.5, "labelFont": "Liberation Sans", "labelColor": "#000", "labelOffset": 7, "rowPadding": 1.9, "labelLimit": 200}}
      }
    },
    {"data": {"values": [{}]}, "mark": {"type": "text", "text": "ALICE", "fontSize": 21, "align": "left", "baseline": "alphabetic"},
     "encoding": {"x": {"datum": -0.0936, "type": "quantitative", "axis": null}, "y": {"datum": 7460, "type": "quantitative", "axis": null}}},
    {"data": {"values": [{}]}, "mark": {"type": "text", "text": "0–10% Pb–Pb,", "fontSize": 13.5, "align": "left", "baseline": "alphabetic"},
     "encoding": {"x": {"datum": -0.0933, "type": "quantitative", "axis": null}, "y": {"datum": 3230, "type": "quantitative", "axis": null}}},
    {"data": {"values": [{}]}, "mark": {"type": "text", "text": "√", "fontSize": 14, "align": "left", "baseline": "alphabetic", "dx": 94.5},
     "encoding": {"x": {"datum": -0.0933, "type": "quantitative", "axis": null}, "y": {"datum": 3230, "type": "quantitative", "axis": null}}},
    {"data": {"values": [{}]}, "mark": {"type": "text", "text": "s", "fontStyle": "italic", "fontSize": 14, "align": "left", "baseline": "alphabetic", "dx": 103},
     "encoding": {"x": {"datum": -0.0933, "type": "quantitative", "axis": null}, "y": {"datum": 3230, "type": "quantitative", "axis": null}}},
    {"data": {"values": [{}]}, "mark": {"type": "text", "text": "NN", "fontSize": 10, "align": "left", "baseline": "alphabetic", "dx": 110.5, "dy": 3},
     "encoding": {"x": {"datum": -0.0933, "type": "quantitative", "axis": null}, "y": {"datum": 3230, "type": "quantitative", "axis": null}}},
    {"data": {"values": [{}]}, "mark": {"type": "text", "text": "= 5.02 TeV", "fontSize": 14, "align": "left", "baseline": "alphabetic", "dx": 127.5},
     "encoding": {"x": {"datum": -0.0933, "type": "quantitative", "axis": null}, "y": {"datum": 3230, "type": "quantitative", "axis": null}}},
    {"data": {"values": [{}]}, "mark": {"type": "text", "text": "6 <", "fontSize": 14.5, "align": "left", "baseline": "alphabetic"},
     "encoding": {"x": {"datum": -0.0933, "type": "quantitative", "axis": null}, "y": {"datum": 1457, "type": "quantitative", "axis": null}}},
    {"data": {"values": [{}]}, "mark": {"type": "text", "text": "p", "fontStyle": "italic", "fontSize": 14.5, "align": "left", "baseline": "alphabetic", "dx": 25},
     "encoding": {"x": {"datum": -0.0933, "type": "quantitative", "axis": null}, "y": {"datum": 1457, "type": "quantitative", "axis": null}}},
    {"data": {"values": [{}]}, "mark": {"type": "text", "text": "T", "fontSize": 10, "align": "left", "baseline": "alphabetic", "dx": 33, "dy": 3},
     "encoding": {"x": {"datum": -0.0933, "type": "quantitative", "axis": null}, "y": {"datum": 1457, "type": "quantitative", "axis": null}}},
    {"data": {"values": [{}]}, "mark": {"type": "text", "text": "< 8 GeV/", "fontSize": 14.5, "align": "left", "baseline": "alphabetic", "dx": 43},
     "encoding": {"x": {"datum": -0.0933, "type": "quantitative", "axis": null}, "y": {"datum": 1457, "type": "quantitative", "axis": null}}},
    {"data": {"values": [{}]}, "mark": {"type": "text", "text": "c", "fontStyle": "italic", "fontSize": 14.5, "align": "left", "baseline": "alphabetic", "dx": 100.5},
     "encoding": {"x": {"datum": -0.0933, "type": "quantitative", "axis": null}, "y": {"datum": 1457, "type": "quantitative", "axis": null}}},
    {"data": {"values": [{}]}, "mark": {"type": "text", "text": ", |", "fontSize": 14.5, "align": "left", "baseline": "alphabetic", "dx": 108},
     "encoding": {"x": {"datum": -0.0933, "type": "quantitative", "axis": null}, "y": {"datum": 1457, "type": "quantitative", "axis": null}}},
    {"data": {"values": [{}]}, "mark": {"type": "text", "text": "y", "fontStyle": "italic", "fontSize": 14.5, "align": "left", "baseline": "alphabetic", "dx": 119.5},
     "encoding": {"x": {"datum": -0.0933, "type": "quantitative", "axis": null}, "y": {"datum": 1457, "type": "quantitative", "axis": null}}},
    {"data": {"values": [{}]}, "mark": {"type": "text", "text": "| < 0.8", "fontSize": 14.5, "align": "left", "baseline": "alphabetic", "dx": 127},
     "encoding": {"x": {"datum": -0.0933, "type": "quantitative", "axis": null}, "y": {"datum": 1457, "type": "quantitative", "axis": null}}}
  ],
  "resolve": {"axis": {"x": "independent", "y": "independent"}, "scale": {"stroke": "independent", "fill": "independent", "shape": "independent"}}
},
{
  "width": 336, "height": 79,
  "layer": [
    {
      "data": {"name": "ratio"},
      "mark": {"type": "line", "interpolate": "step-after", "stroke": "#7b7b14", "strokeWidth": 2, "clip": true},
      "encoding": {
        "x": {"field": "x", "type": "quantitative", "scale": {"domain": [-0.1, 0.1], "nice": false, "zero": false},
              "axis": {"orient": "bottom", "values": [-0.1,-0.09,-0.08,-0.07,-0.06,-0.05,-0.04,-0.03,-0.02,-0.01,0,0.01,0.02,0.03,0.04,0.05,0.06,0.07,0.08,0.09,0.1],
                       "labelExpr": "abs(datum.value*20-round(datum.value*20))<0.001 ? format(datum.value,'~g') : ''",
                       "tickSize": {"condition": {"test": "abs(datum.value*20-round(datum.value*20))<0.001", "value": -9}, "value": -5},
                       "labelPadding": 15, "title": "d₀ × sign(charge × field) (cm)", "titleAnchor": "end", "titleBaseline": "alphabetic", "titleY": 35}},
        "y": {"field": "r", "type": "quantitative", "scale": {"domain": [0, 2.26], "nice": false},
              "axis": {"orient": "left", "values": [0,0.2,0.4,0.6,0.8,1,1.2,1.4,1.6,1.8,2,2.2],
                       "labelExpr": "abs(datum.value-round(datum.value))<0.001 ? format(datum.value,'d') : ''",
                       "tickSize": {"condition": {"test": "abs(datum.value-round(datum.value))<0.001", "value": -10}, "value": -5},
                       "labelPadding": 16, "title": "Data/Fit", "titleFontSize": 18.5, "titleAnchor": "end", "titleY": 5, "titleX": -38}}
      }
    },
    {
      "data": {"values": [{}]},
      "mark": {"type": "rule", "strokeDash": [5, 4], "strokeWidth": 1.5, "color": "#000"},
      "encoding": {
        "x": {"datum": -0.1, "type": "quantitative",
              "axis": {"orient": "top", "values": [-0.1,-0.09,-0.08,-0.07,-0.06,-0.05,-0.04,-0.03,-0.02,-0.01,0,0.01,0.02,0.03,0.04,0.05,0.06,0.07,0.08,0.09,0.1], "labels": false, "title": null,
                       "tickSize": {"condition": {"test": "abs(datum.value*20-round(datum.value*20))<0.001", "value": -9}, "value": -5}}},
        "x2": {"datum": 0.1},
        "y": {"datum": 1, "type": "quantitative",
              "axis": {"orient": "right", "values": [0,0.2,0.4,0.6,0.8,1,1.2,1.4,1.6,1.8,2,2.2], "labels": false, "title": null,
                       "tickSize": {"condition": {"test": "abs(datum.value-round(datum.value))<0.001", "value": -10}, "value": -5}}}
      }
    }
  ],
  "resolve": {"axis": {"x": "independent", "y": "independent"}}
}
]
}
